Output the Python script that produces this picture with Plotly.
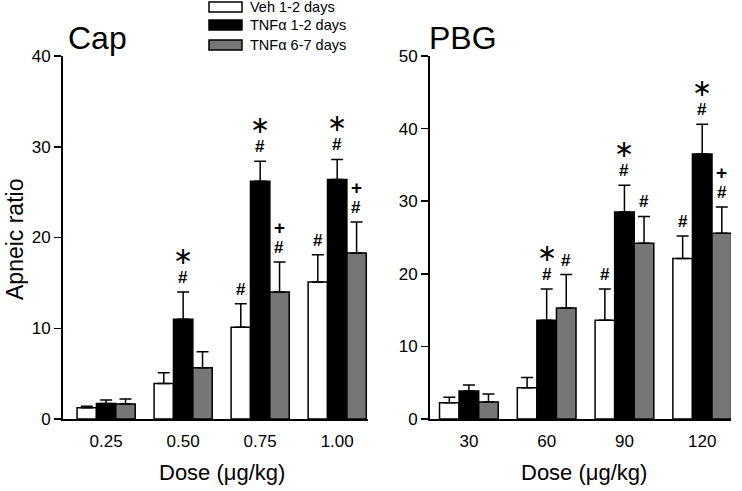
import plotly.graph_objects as go

# ---------------- data ----------------
series_names = ["Veh 1-2 days", "TNFα 1-2 days", "TNFα 6-7 days"]
series_colors = ["#ffffff", "#000000", "#767676"]

cap_doses = ["0.25", "0.50", "0.75", "1.00"]
cap_veh = [1.25, 3.9, 10.1, 15.1]
cap_veh_err = [0.15, 1.2, 2.6, 3.0]
cap_tnf12 = [1.7, 11.0, 26.2, 26.4]
cap_tnf12_err = [0.4, 3.0, 2.2, 2.2]
cap_tnf67 = [1.65, 5.65, 14.0, 18.3]
cap_tnf67_err = [0.55, 1.75, 3.3, 3.4]
cap_marks_veh = ["", "", "#", "#"]
cap_marks_tnf12 = ["", "*#", "*#", "*#"]
cap_marks_tnf67 = ["", "", "+#", "+#"]

pbg_doses = ["30", "60", "90", "120"]
pbg_veh = [2.25, 4.3, 13.6, 22.1]
pbg_veh_err = [0.75, 1.4, 4.3, 3.1]
pbg_tnf12 = [3.85, 13.6, 28.5, 36.5]
pbg_tnf12_err = [0.85, 4.3, 3.7, 4.1]
pbg_tnf67 = [2.35, 15.3, 24.2, 25.6]
pbg_tnf67_err = [1.1, 4.6, 3.7, 3.6]
pbg_marks_veh = ["", "", "#", "#"]
pbg_marks_tnf12 = ["", "*#", "*#", "*#"]
pbg_marks_tnf67 = ["", "#", "#", "+#"]

FONT = "Liberation Sans, Arial, sans-serif"
W, H = 742, 491

fig = go.Figure()

panels = [
    dict(xa="x", ya="y", doses=cap_doses,
         vals=[cap_veh, cap_tnf12, cap_tnf67],
         errs=[cap_veh_err, cap_tnf12_err, cap_tnf67_err],
         marks=[cap_marks_veh, cap_marks_tnf12, cap_marks_tnf67]),
    dict(xa="x2", ya="y2", doses=pbg_doses,
         vals=[pbg_veh, pbg_tnf12, pbg_tnf67],
         errs=[pbg_veh_err, pbg_tnf12_err, pbg_tnf67_err],
         marks=[pbg_marks_veh, pbg_marks_tnf12, pbg_marks_tnf67]),
]

bar_w = 0.25
offsets = [-bar_w, 0.0, bar_w]
annotations = []
shapes = []

for p_i, p in enumerate(panels):
    xs = list(range(len(p["doses"])))
    for s_i in range(3):
        fig.add_trace(go.Bar(
            x=xs, y=p["vals"][s_i],
            name=series_names[s_i],
            showlegend=False,
            legendgroup=series_names[s_i],
            marker=dict(color=series_colors[s_i], line=dict(color="black", width=1.5)),
            error_y=dict(type="data", symmetric=False, array=p["errs"][s_i],
                         arrayminus=[0] * len(xs), color="black", thickness=1.5, width=6),
            xaxis=p["xa"], yaxis=p["ya"],
            hoverinfo="skip",
        ))
        for c_i, m in enumerate(p["marks"][s_i]):
            if not m:
                continue
            top = p["vals"][s_i][c_i] + p["errs"][s_i][c_i]
            xpos = c_i + offsets[s_i]
            annotations.append(dict(x=xpos, y=top, xref=p["xa"], yref=p["ya"],
                                    text="<b>#</b>", showarrow=False, yanchor="bottom",
                                    yshift=3, font=dict(family=FONT, size=17, color="black")))
            if m[0] == "*":
                annotations.append(dict(x=xpos, y=top, xref=p["xa"], yref=p["ya"],
                                        text="∗", showarrow=False, yanchor="bottom",
                                        yshift=21, font=dict(family=FONT, size=24, color="black")))
            elif m[0] == "+":
                annotations.append(dict(x=xpos, y=top, xref=p["xa"], yref=p["ya"],
                                        text="<b>+</b>", showarrow=False, yanchor="bottom",
                                        yshift=22, font=dict(family=FONT, size=19, color="black")))

# legend (drawn manually to match the wide swatches)
leg_rows_y = [7, 25, 45]
for name, col, ry in zip(series_names, series_colors, leg_rows_y):
    shapes.append(dict(type="rect", xref="paper", yref="paper",
                       x0=209 / W, x1=242 / W, y0=1 - (ry + 5) / H, y1=1 - (ry - 5) / H,
                       fillcolor=col, line=dict(color="black", width=1.5)))
    annotations.append(dict(text=name, x=248 / W, y=1 - ry / H, xref="paper", yref="paper",
                            xanchor="left", yanchor="middle", showarrow=False,
                            font=dict(family=FONT, size=14.5, color="black")))

# titles and axis labels
annotations += [
    dict(text="Cap", x=66 / W, y=1 - 38 / H, xref="paper", yref="paper",
         xanchor="left", yanchor="middle", showarrow=False,
         font=dict(family=FONT, size=32, color="black")),
    dict(text="PBG", x=427 / W, y=1 - 38 / H, xref="paper", yref="paper",
         xanchor="left", yanchor="middle", showarrow=False,
         font=dict(family=FONT, size=32, color="black")),
    dict(text="Dose (μg/kg)", x=222 / W, y=1 - 472 / H, xref="paper", yref="paper",
         xanchor="center", yanchor="middle", showarrow=False,
         font=dict(family=FONT, size=22, color="black")),
    dict(text="Dose (μg/kg)", x=584 / W, y=1 - 472 / H, xref="paper", yref="paper",
         xanchor="center", yanchor="middle", showarrow=False,
         font=dict(family=FONT, size=22, color="black")),
    dict(text="Apneic ratio", x=15 / W, y=1 - 240 / H, xref="paper", yref="paper",
         xanchor="center", yanchor="middle", showarrow=False, textangle=-90,
         font=dict(family=FONT, size=23, color="black")),
]

ydom = [1 - 419 / H, 1 - 56 / H]
common_x = dict(showline=True, linecolor="black", linewidth=2, ticks="",
                showgrid=False, zeroline=False, tickfont=dict(family=FONT, size=17, color="black"),
                ticklabelstandoff=6, fixedrange=True, automargin=False)
common_y = dict(showline=True, linecolor="black", linewidth=2, ticks="outside", ticklen=7,
                tickwidth=1.5, tickcolor="black", showgrid=False, zeroline=False,
                tickfont=dict(family=FONT, size=17, color="black"), fixedrange=True,
                automargin=False)

fig.update_layout(
    template="none",
    width=W, height=H,
    margin=dict(l=0, r=0, t=0, b=0, pad=0, autoexpand=False),
    paper_bgcolor="white", plot_bgcolor="white",
    barmode="group", bargap=0.245, bargroupgap=0,
    font=dict(family=FONT, color="black"),
    showlegend=False,
    xaxis=dict(domain=[63 / W, 368 / W], range=[-0.56, 3.4],
               tickvals=[0, 1, 2, 3], ticktext=cap_doses, **common_x),
    yaxis=dict(domain=ydom, range=[0, 40], tickvals=[0, 10, 20, 30, 40], **common_y),
    xaxis2=dict(domain=[430 / W, 731 / W], range=[-0.5, 3.37],
                tickvals=[0, 1, 2, 3], ticktext=pbg_doses, anchor="y2", **common_x),
    yaxis2=dict(domain=ydom, range=[0, 50], tickvals=[0, 10, 20, 30, 40, 50],
                anchor="x2", **common_y),
    annotations=annotations,
    shapes=shapes,
)

fig.write_html("out.html", config={"displayModeBar": False, "staticPlot": True},
               post_script="document.body.style.margin='0';document.body.style.overflow='hidden';")
